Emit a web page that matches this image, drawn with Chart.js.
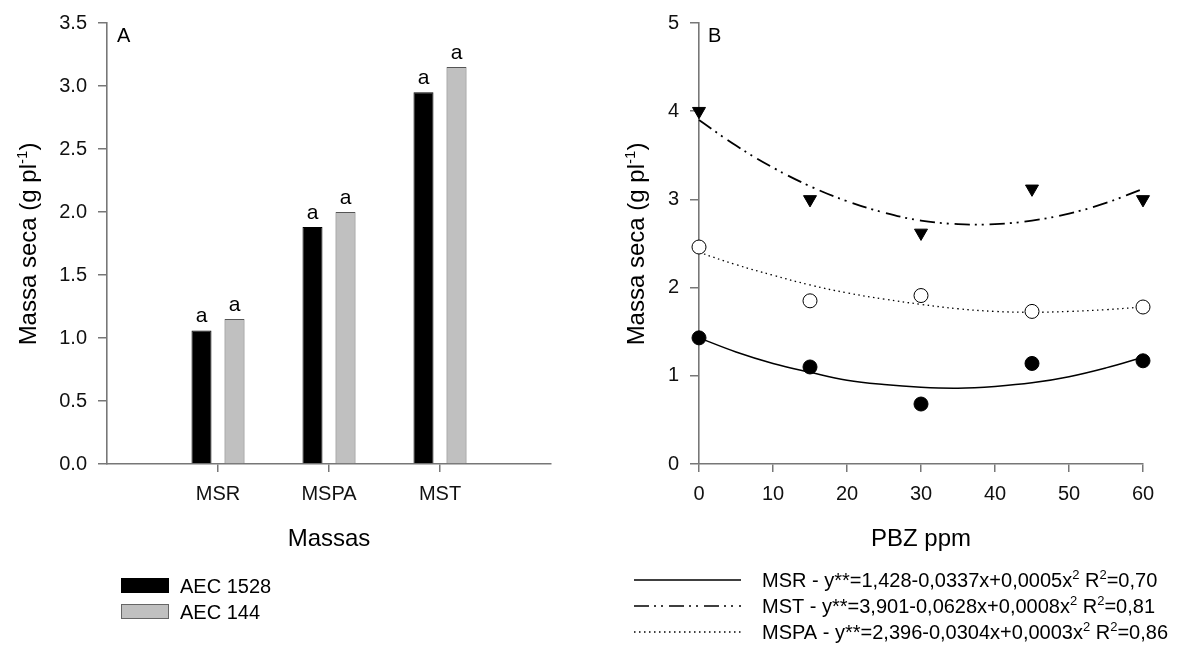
<!DOCTYPE html>
<html>
<head>
<meta charset="utf-8">
<script src="https://cdn.jsdelivr.net/npm/chart.js@4.4.0/dist/chart.umd.min.js"></script>
<style>
  body { margin: 0; background: #fff; }
  #wrap { position: relative; width: 1196px; height: 650px; }
  canvas { position: absolute; top: 0; }
  #c1 { left: 0; }
  #c2 { left: 598px; }
</style>
</head>
<body>
<div id="wrap">
  <canvas id="c1" width="598" height="650"></canvas>
  <canvas id="c2" width="598" height="650"></canvas>
</div>
<script>
// panel A
var massas = ['', 'MSR', 'MSPA', 'MST', ''];
var aec1528 = [null, 1.06, 1.88, 2.95, null];
var aec144 = [null, 1.15, 2.00, 3.15, null];
var letrasA = ['', 'a', 'a', 'a', ''];

// panel B
var doses = [0, 15, 30, 45, 60];
var msrPts = [1.43, 1.10, 0.68, 1.14, 1.17];
var mspaPts = [2.46, 1.85, 1.91, 1.73, 1.78];
var mstPts = [4.00, 3.00, 2.62, 3.12, 3.00];

// fitted curves, every 5 ppm
var curveX = [0, 5, 10, 15, 20, 25, 30, 35, 40, 45, 50, 55, 60];
var msrCurve = [1.43, 1.27, 1.14, 1.04, 0.95, 0.90, 0.87, 0.86, 0.88, 0.92, 0.99, 1.09, 1.21];
var mstCurve = [3.90, 3.61, 3.36, 3.15, 2.98, 2.85, 2.76, 2.72, 2.72, 2.76, 2.84, 2.96, 3.12];
var mspaCurve = [2.40, 2.26, 2.14, 2.03, 1.94, 1.87, 1.81, 1.76, 1.73, 1.72, 1.73, 1.75, 1.78];

var FONT = "'Liberation Sans', Arial, sans-serif";
var AXIS = '#777';

function xy(xs, ys) {
    return xs.map(function (x, i) { return { x: x, y: ys[i] }; });
}

// y title with superscript, rotated
function drawYTitle(ctx, baseX, centerY) {
    ctx.save();
    ctx.translate(baseX, centerY);
    ctx.rotate(-Math.PI / 2);
    ctx.fillStyle = '#000';
    ctx.textBaseline = 'alphabetic';
    ctx.textAlign = 'left';
    var big = '24px ' + FONT, small = '15px ' + FONT;
    ctx.font = big;
    var w1 = ctx.measureText('Massa seca (g pl').width;
    var w3 = ctx.measureText(')').width;
    ctx.font = small;
    var w2 = ctx.measureText('-1').width;
    var x = -(w1 + w2 + w3) / 2;
    ctx.font = big;
    ctx.fillText('Massa seca (g pl', x, 0);
    ctx.font = small;
    ctx.fillText('-1', x + w1, -9);
    ctx.font = big;
    ctx.fillText(')', x + w1 + w2, 0);
    ctx.restore();
}

function drawSupLine(ctx, parts, x, y) {
    parts.forEach(function (p) {
        ctx.font = (p[1] ? '13px ' : '20px ') + FONT;
        ctx.fillText(p[0], x, p[1] ? y - 8 : y);
        x += ctx.measureText(p[0]).width;
    });
}

var extrasA = {
    id: 'extrasA',
    afterDatasetsDraw: function (chart) {
        var ctx = chart.ctx;
        ctx.save();
        ctx.fillStyle = '#000';
        ctx.font = '21px ' + FONT;
        ctx.textAlign = 'center';
        ctx.textBaseline = 'alphabetic';
        chart.data.datasets.forEach(function (ds, di) {
            chart.getDatasetMeta(di).data.forEach(function (bar, i) {
                if (ds.data[i] == null) return;
                ctx.fillText(letrasA[i], bar.x, bar.y - 8);
            });
        });
        ctx.restore();
    },
    afterDraw: function (chart) {
        var ctx = chart.ctx;
        var ca = chart.chartArea;
        ctx.save();
        ctx.fillStyle = '#000';
        ctx.font = '20px ' + FONT;
        ctx.textAlign = 'left';
        ctx.textBaseline = 'alphabetic';
        ctx.fillText('A', ca.left + 10, 42);
        drawYTitle(ctx, 36, 244);
        ctx.font = '24px ' + FONT;
        ctx.textAlign = 'center';
        ctx.fillText('Massas', (ca.left + ca.right) / 2, 546);
        // legend
        ctx.textAlign = 'left';
        ctx.font = '20px ' + FONT;
        ctx.fillStyle = '#000';
        ctx.fillRect(121, 578, 48, 15);
        ctx.fillStyle = '#c0c0c0';
        ctx.fillRect(121, 604, 48, 15);
        ctx.strokeStyle = '#666';
        ctx.lineWidth = 1;
        ctx.strokeRect(121.5, 604.5, 47, 14);
        ctx.fillStyle = '#000';
        ctx.fillText('AEC 1528', 180, 593);
        ctx.fillText('AEC 144', 180, 619);
        ctx.restore();
    }
};

var extrasB = {
    id: 'extrasB',
    afterDraw: function (chart) {
        var ctx = chart.ctx;
        var ca = chart.chartArea;
        ctx.save();
        ctx.fillStyle = '#000';
        ctx.font = '20px ' + FONT;
        ctx.textAlign = 'left';
        ctx.textBaseline = 'alphabetic';
        ctx.fillText('B', ca.left + 9, 42);
        drawYTitle(ctx, 46, 244);
        ctx.font = '24px ' + FONT;
        ctx.textAlign = 'center';
        ctx.fillText('PBZ ppm', (ca.left + ca.right) / 2, 546);
        // legend
        ctx.textAlign = 'left';
        var rows = [
            { y: 580, dash: [], parts: [['MSR - y**=1,428-0,0337x+0,0005x', 0], ['2', 1], [' R', 0], ['2', 1], ['=0,70', 0]] },
            { y: 606, dash: [15, 5, 2, 5, 2, 6], parts: [['MST - y**=3,901-0,0628x+0,0008x', 0], ['2', 1], [' R', 0], ['2', 1], ['=0,81', 0]] },
            { y: 632, dash: [1.5, 3.5], parts: [['MSPA - y**=2,396-0,0304x+0,0003x', 0], ['2', 1], [' R', 0], ['2', 1], ['=0,86', 0]] }
        ];
        rows.forEach(function (r) {
            ctx.strokeStyle = '#000';
            ctx.lineWidth = 1.5;
            ctx.setLineDash(r.dash);
            ctx.beginPath();
            ctx.moveTo(36, r.y);
            ctx.lineTo(143, r.y);
            ctx.stroke();
            ctx.setLineDash([]);
            drawSupLine(ctx, r.parts, 164, r.y + 7);
        });
        ctx.restore();
    }
};

function axisY(width, min, max, step, dec, pad) {
    return {
        min: min, max: max,
        afterFit: function (s) { s.width = width; },
        ticks: {
            stepSize: step, color: '#111', padding: pad,
            font: { family: FONT, size: 20 },
            callback: function (v) { return v.toFixed(dec); }
        },
        grid: { drawOnChartArea: false, tickLength: 9, color: AXIS, lineWidth: 1.5 },
        border: { color: AXIS, width: 1.6 }
    };
}

new Chart(document.getElementById('c1'), {
    type: 'bar',
    data: {
        labels: massas,
        datasets: [
            { label: 'AEC 1528', data: aec1528, backgroundColor: '#000', borderColor: '#000', borderWidth: 1 },
            { label: 'AEC 144', data: aec144, backgroundColor: '#c0c0c0', borderColor: '#555', borderWidth: 1 }
        ]
    },
    options: {
        responsive: false,
        animation: false,
        categoryPercentage: 0.595,
        barPercentage: 0.606,
        layout: { padding: { left: 0, top: 20, right: 47, bottom: 0 } },
        plugins: { legend: { display: false }, tooltip: { enabled: false } },
        scales: {
            x: {
                offset: false,
                afterFit: function (s) { s.height = 186; },
                ticks: { color: '#111', padding: 10, font: { family: FONT, size: 20 }, maxRotation: 0 },
                grid: {
                    offset: false, drawOnChartArea: false, tickLength: 8, lineWidth: 1.5,
                    color: function (c) { return (c.index === 0 || c.index === 4) ? 'rgba(0,0,0,0)' : AXIS; }
                },
                border: { color: AXIS, width: 1.6 }
            },
            y: axisY(107, 0, 3.5, 0.5, 1, 11)
        }
    },
    plugins: [extrasA]
});

new Chart(document.getElementById('c2'), {
    type: 'scatter',
    data: {
        datasets: [
            { data: xy(doses, msrPts), pointStyle: 'circle', pointRadius: 7, backgroundColor: '#000', borderColor: '#000', showLine: false, clip: false },
            { data: xy(doses, mspaPts), pointStyle: 'circle', pointRadius: 7, backgroundColor: '#fff', borderColor: '#000', borderWidth: 1, showLine: false, clip: false },
            { data: xy(doses, mstPts), pointStyle: 'triangle', rotation: 180, pointRadius: 7.5, backgroundColor: '#000', borderColor: '#000', showLine: false, clip: false },
            { data: xy(curveX, msrCurve), showLine: true, pointRadius: 0, borderColor: '#000', borderWidth: 1.5, tension: 0.4, clip: false },
            { data: xy(curveX, mstCurve), showLine: true, pointRadius: 0, borderColor: '#000', borderWidth: 1.8, borderDash: [15, 5, 2, 5, 2, 6], tension: 0.4, clip: false },
            { data: xy(curveX, mspaCurve), showLine: true, pointRadius: 0, borderColor: '#000', borderWidth: 1.3, borderDash: [1.5, 3.5], tension: 0.4, clip: false }
        ]
    },
    options: {
        responsive: false,
        animation: false,
        layout: { padding: { left: 0, top: 20, right: 53, bottom: 0 } },
        plugins: { legend: { display: false }, tooltip: { enabled: false } },
        scales: {
            x: {
                type: 'linear', min: 0, max: 60,
                afterFit: function (s) { s.height = 186; },
                ticks: { stepSize: 10, color: '#111', padding: 10, font: { family: FONT, size: 20 } },
                grid: { drawOnChartArea: false, tickLength: 8, color: AXIS, lineWidth: 1.5 },
                border: { color: AXIS, width: 1.6 }
            },
            y: axisY(101, 0, 5, 1, 0, 11)
        }
    },
    plugins: [extrasB]
});
</script>
</body>
</html>
